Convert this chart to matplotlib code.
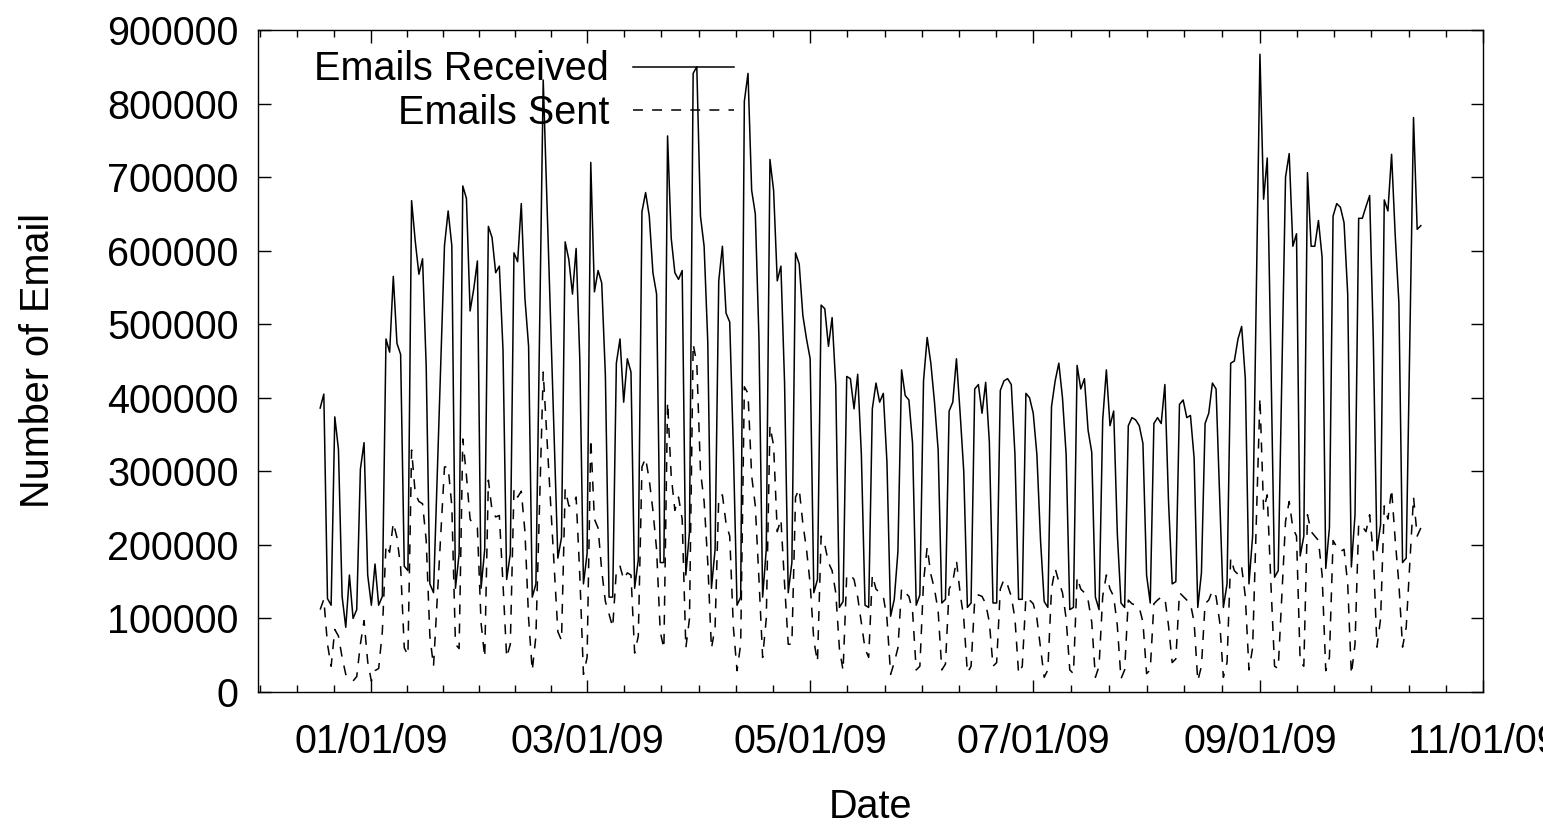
import numpy as np
import pandas as pd
import matplotlib
matplotlib.use("Agg")
import matplotlib.pyplot as plt
import matplotlib.dates as mdates
from matplotlib.ticker import FuncFormatter

# =========================
# DATA (daily counts, thousands, Thu 2008-12-18 .. Thu 2009-10-15)
# =========================

START_DATE = "2008-12-18"
END_DATE = "2009-10-15"

# days with no sample (the lines just join across them)
missing_days = ["2009-01-19", "2009-01-20",
                "2009-02-16", "2009-02-18", "2009-02-19", "2009-02-20",
                "2009-08-31", "2009-09-07", "2009-10-12"]

received_k = [
    386, 405, 127, 118,
    374, 330, 130, 88, 159, 100, 112,
    303, 339, 159, 118, 174, 118, 130,
    480, 462, 565, 474, 459, 171, 165,
    668, 613, 568, 589, 442, 147, 135,
    607, 654, 607, 141, 188,
    688, 671, 518, 548, 586, 141, 194,
    633, 618, 570, 579, 465, 153, 188,
    597, 585, 664, 535, 470, 129, 147,
    832, 182, 210,
    612, 588, 541, 603, 453, 147, 188,
    720, 544, 573, 556, 430, 129, 129,
    447, 480, 394, 453, 435, 141, 180,
    653, 679, 647, 570, 541, 176, 176,
    756, 617, 570, 561, 573, 159, 218,
    841, 850, 647, 606, 476, 141, 194,
    559, 606, 515, 503, 330, 118, 129,
    803, 841, 682, 650, 480, 129, 194,
    724, 682, 559, 579, 420, 135, 176,
    597, 582, 512, 480, 453, 135, 153,
    526, 521, 470, 509, 417, 115, 123,
    429, 426, 385, 432, 323, 118, 115,
    385, 420, 394, 406, 312, 103, 126,
    191, 438, 403, 397, 338, 118, 132,
    423, 482, 447, 394, 329, 121, 126,
    382, 394, 453, 380, 300, 115, 121,
    412, 418, 379, 421, 340, 121, 121,
    410, 423, 426, 418, 323, 126, 126,
    406, 400, 379, 323, 206, 123, 115,
    388, 423, 447, 400, 323, 112, 115,
    444, 412, 426, 356, 326, 129, 112,
    370, 438, 362, 382, 215, 121, 115,
    362, 373, 370, 362, 338, 159, 121,
    365, 373, 365, 418, 259, 147, 150,
    391, 397, 373, 376, 318, 115, 162,
    365, 379, 420, 412, 265, 115, 147,
    447, 450, 480, 497, 426, 147, 212,
    867, 670, 726, 450, 156, 165,
    700, 732, 606, 623, 185, 212,
    706, 606, 606, 641, 591, 168, 223,
    647, 664, 659, 638, 541, 170, 241,
    644, 644, 660, 675, 480, 192, 228,
    669, 654, 731, 620, 529, 176, 182,
    781, 629, 634,
]

sent_k = [
    112, 126, 65, 35,
    85, 76, 47, 24, 18, 15, 21,
    65, 97, 41, 15, 29, 32, 82,
    200, 190, 230, 210, 170, 60, 50,
    329, 270, 259, 256, 206, 76, 35,
    306, 306, 253, 65, 59,
    344, 294, 235, 226, 223, 94, 47,
    288, 247, 238, 240, 147, 47, 65,
    276, 265, 273, 218, 100, 29, 76,
    435, 82, 70,
    276, 253, 253, 265, 159, 24, 47,
    344, 235, 223, 165, 123, 106, 88,
    165, 171, 153, 162, 159, 53, 76,
    306, 318, 288, 247, 194, 82, 59,
    394, 294, 247, 265, 235, 60, 100,
    473, 447, 300, 259, 176, 59, 88,
    265, 268, 229, 212, 88, 29, 65,
    415, 406, 294, 253, 153, 47, 100,
    362, 335, 218, 235, 147, 65, 65,
    265, 276, 229, 194, 147, 70, 41,
    212, 200, 176, 165, 135, 59, 29,
    159, 159, 153, 129, 94, 59, 47,
    159, 140, 135, 130, 100, 24, 40,
    60, 141, 135, 130, 110, 30, 35,
    150, 197, 160, 140, 110, 30, 38,
    140, 150, 179, 135, 100, 26, 35,
    125, 132, 130, 120, 95, 35, 40,
    140, 153, 145, 130, 100, 25, 35,
    129, 125, 120, 100, 60, 20, 30,
    140, 168, 150, 135, 100, 30, 25,
    156, 140, 135, 125, 95, 20, 35,
    130, 159, 140, 130, 90, 18, 30,
    125, 120, 118, 115, 95, 25, 30,
    120, 125, 129, 128, 90, 40, 45,
    135, 130, 125, 120, 95, 15, 35,
    120, 125, 138, 130, 95, 20, 40,
    182, 165, 160, 170, 130, 30, 60,
    400, 247, 268, 147, 35, 32,
    232, 259, 223, 212, 41, 35,
    241, 218, 212, 206, 159, 29, 47,
    206, 197, 191, 194, 147, 24, 65,
    229, 225, 218, 241, 188, 61, 100,
    253, 235, 276, 206, 147, 61, 88,
    265, 212, 223,
]

y_ticks = list(range(0, 900001, 100000))
x_major_dates = ["2008-11-01", "2009-01-01", "2009-03-01", "2009-05-01",
                 "2009-07-01", "2009-09-01", "2009-11-01"]
x_limits = ("2008-12-01", "2009-11-01")

# =========================
# PREP
# =========================

dates = pd.date_range(START_DATE, END_DATE, freq="D").drop(pd.to_datetime(missing_days))
assert len(dates) == len(received_k) == len(sent_k)
received = np.array(received_k) * 1000
sent = np.array(sent_k) * 1000

plt.rcParams["font.family"] = ["Liberation Sans", "DejaVu Sans"]
FS = 28.5

# =========================
# PLOT
# =========================

fig = plt.figure(figsize=(15.43, 8.25), dpi=100)
ax = fig.add_axes([258 / 1543, 1 - 692 / 825, 1225 / 1543, 662 / 825])

ax.plot(dates, received, color="black", lw=1.1, label="Emails Received")
ax.plot(dates, sent, color="black", lw=1.1, dashes=(6.5, 6), label="Emails Sent")

# ticks
majors = [mdates.date2num(pd.Timestamp(d)) for d in x_major_dates]
minors = []
for a, b in zip(majors[:-1], majors[1:]):
    minors.extend(np.linspace(a, b, 7)[1:-1])
ax.set_xticks(majors)
ax.set_xticks(minors, minor=True)
ax.xaxis.set_major_formatter(mdates.DateFormatter("%m/%d/%y"))
ax.set_yticks(y_ticks)
ax.yaxis.set_major_formatter(FuncFormatter(lambda v, p: f"{int(v)}"))

ax.set_xlim(pd.Timestamp(x_limits[0]), pd.Timestamp(x_limits[1]))
ax.set_ylim(0, 900000)

ax.tick_params(axis="both", which="both", direction="in",
               top=True, right=True, labelsize=FS, width=1.0)
ax.tick_params(axis="both", which="major", length=9)
ax.tick_params(axis="x", which="minor", length=5)
ax.tick_params(axis="x", which="major", pad=22)
ax.tick_params(axis="y", which="major", pad=14)

for s in ax.spines.values():
    s.set_linewidth(1.0)

ax.set_xlabel("Date", fontsize=FS, labelpad=20)
ax.set_ylabel("Number of Email", fontsize=FS, labelpad=36)

ax.legend(
    loc="upper right",
    bbox_to_anchor=(0.411, 1.011),
    frameon=False,
    fontsize=FS,
    markerfirst=False,
    handlelength=2.55,
    handletextpad=0.6,
    labelspacing=0.13,
    borderaxespad=0.3,
)

fig.savefig("out.png", dpi=100)
plt.close(fig)
